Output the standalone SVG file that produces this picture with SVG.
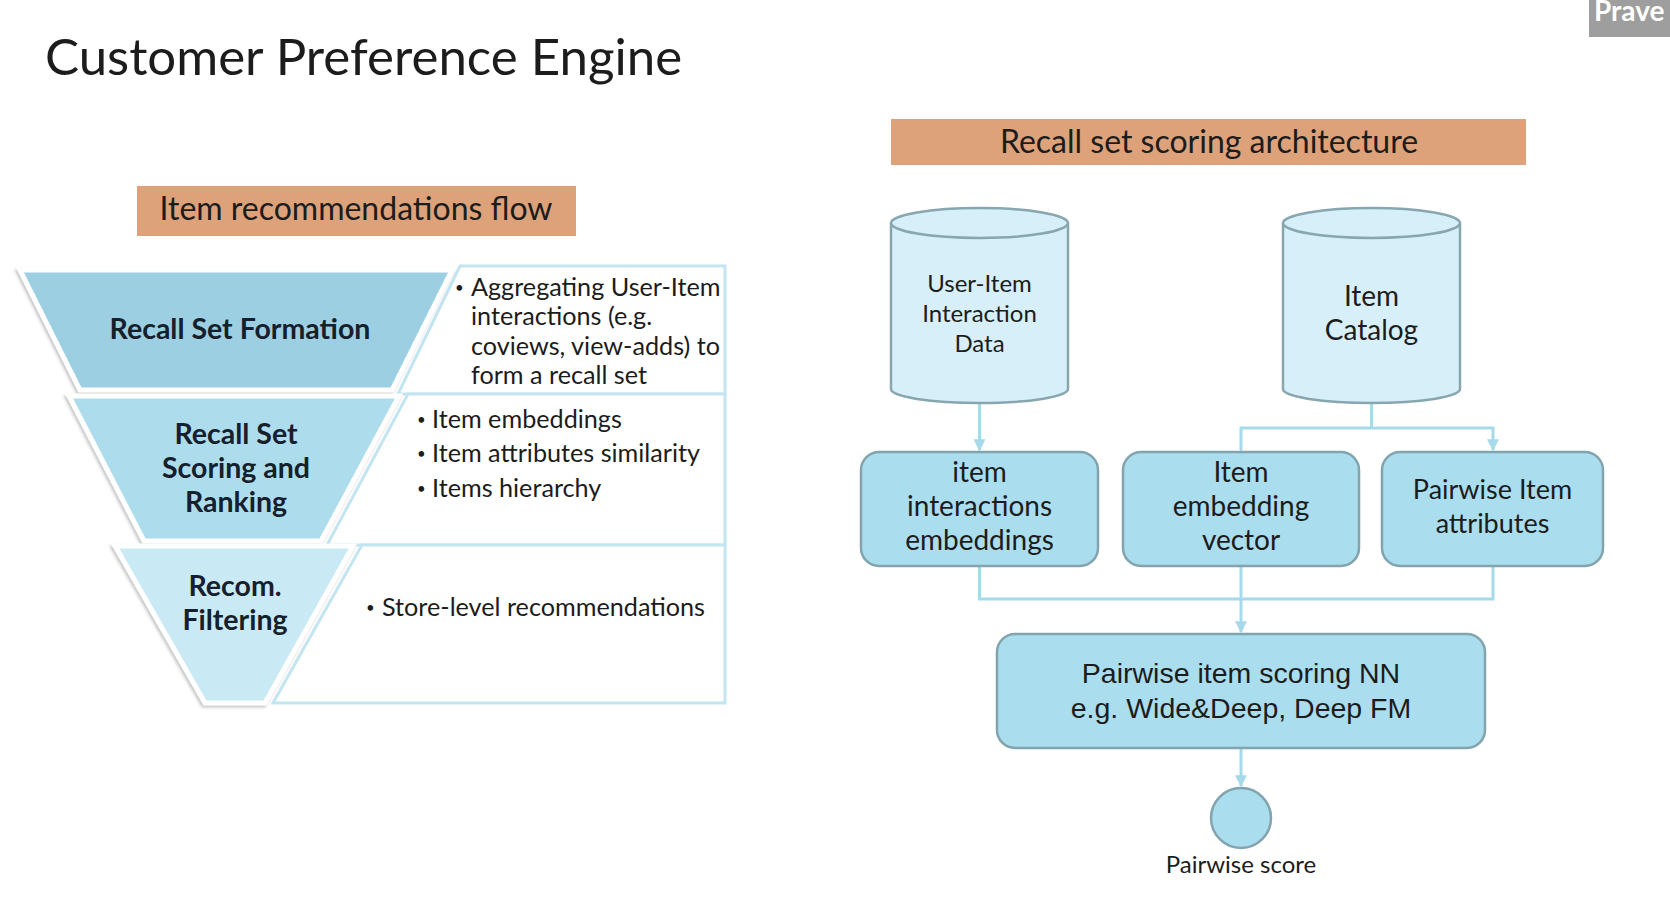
<svg xmlns="http://www.w3.org/2000/svg" width="1670" height="898" viewBox="0 0 1670 898">
<defs>
<style>
.t{font-family:Lato,"Open Sans","DejaVu Sans",sans-serif;fill:#1c1c1c}
.fl{font-family:Lato,"Open Sans","DejaVu Sans",sans-serif;font-weight:700;font-size:28.5px;fill:#15202c;text-anchor:middle}
.bul{font-size:25.2px}
.dot{font-size:15px}
.hdr{fill:#DDA27A}
.tb{fill:#ffffff;stroke:#C3E5F0;stroke-width:3}
.fun{stroke:#ffffff;stroke-width:5;stroke-linejoin:miter}
.cyl{fill:#D6EFF8;stroke:#88A6B0;stroke-width:2.5}
.box{fill:#AADDEE;stroke:#82A4AE;stroke-width:2.5}
.c{fill:none;stroke:#A6DAEA;stroke-width:3}
.mid{text-anchor:middle}
</style>
<marker id="ah" viewBox="0 0 10 10" refX="9" refY="5" markerWidth="4" markerHeight="4" orient="auto" markerUnits="strokeWidth">
<path d="M0,0 L10,5 L0,10 z" fill="#A6DAEA"/>
</marker>
<filter id="sh" x="-10%" y="-10%" width="120%" height="130%">
<feDropShadow dx="-1.5" dy="2" stdDeviation="1.5" flood-color="#7a7a7a" flood-opacity="0.45"/>
</filter>
</defs>
<rect width="1670" height="898" fill="#ffffff"/>

<g id="title">
<text class="t" x="45" y="75" font-size="51">Customer Preference Engine</text>
</g>

<g id="presenter-tag">
<rect x="1589" y="-5" width="90" height="42" fill="#9E9E9E"/>
<text x="1594" y="21" font-family="Lato,'DejaVu Sans',sans-serif" font-weight="700" font-size="28" fill="#ffffff">Prave</text>
</g>

<g id="flow-header">
<rect class="hdr" x="137" y="186" width="439" height="50"/>
<text class="t mid" x="356" y="220" font-size="32">Item recommendations flow</text>
</g>

<g id="text-boxes">
<polygon id="box-recall" class="tb" points="460,266 725,266 725,394 398,394"/>
<polygon id="box-scoring" class="tb" points="408,394 725,394 725,545 327,545"/>
<polygon id="box-filter" class="tb" points="362,545 725,545 725,703 273,703"/>
</g>

<g id="funnel-recall">
<polygon class="fun" filter="url(#sh)" fill="#9CCFE1" points="20,270 452,270 392,390 80,390"/>
<text class="fl" x="240" y="339">Recall Set Formation</text>
</g>
<g id="funnel-scoring">
<polygon class="fun" filter="url(#sh)" fill="#ADDDED" points="69,396 399,396 321,541 144,541"/>
<text class="fl" x="236" y="444">Recall Set</text>
<text class="fl" x="236" y="478">Scoring and</text>
<text class="fl" x="236" y="512">Ranking</text>
</g>
<g id="funnel-filter">
<polygon class="fun" filter="url(#sh)" fill="#C9EAF5" points="115,546 353,546 265,703 205,703"/>
<text class="fl" x="235" y="596">Recom.</text>
<text class="fl" x="235" y="630">Filtering</text>
</g>

<g id="recall-text" class="t bul">
<text class="dot" x="455" y="293">•</text>
<text x="471" y="296">Aggregating User-Item</text>
<text x="471" y="325">interactions (e.g.</text>
<text x="471" y="355">coviews, view-adds) to</text>
<text x="471" y="384">form a recall set</text>
</g>
<g id="scoring-text" class="t bul">
<text class="dot" x="417" y="425">•</text><text x="432" y="428">Item embeddings</text>
<text class="dot" x="417" y="459">•</text><text x="432" y="462">Item attributes similarity</text>
<text class="dot" x="417" y="494">•</text><text x="432" y="497">Items hierarchy</text>
</g>
<g id="filter-text" class="t bul">
<text class="dot" x="366" y="613">•</text><text x="382" y="616">Store-level recommendations</text>
</g>

<g id="arch-header">
<rect class="hdr" x="891" y="119" width="635" height="46"/>
<text class="t mid" x="1209" y="153" font-size="32">Recall set scoring architecture</text>
</g>

<g id="connectors">
<line class="c" x1="979.5" y1="404" x2="979.5" y2="450" marker-end="url(#ah)"/>
<line class="c" x1="1371.5" y1="404" x2="1371.5" y2="428"/>
<polyline class="c" points="1241,450 1241,428 1493,428 1493,450" marker-start="url(#ah)" marker-end="url(#ah)"/>
<polyline class="c" points="979.5,567 979.5,599 1493,599 1493,567"/>
<line class="c" x1="1241" y1="567" x2="1241" y2="632" marker-end="url(#ah)"/>
<line class="c" x1="1241" y1="749" x2="1241" y2="786" marker-end="url(#ah)"/>
</g>

<g id="cyl-user-item">
<path class="cyl" d="M891,223 A88.5,15 0 0 1 1068,223 L1068,389 A88.5,14 0 0 1 891,389 Z"/>
<path class="cyl" d="M891,223 A88.5,15 0 0 0 1068,223"/>
<text class="t mid" x="979.5" y="292" font-size="24">User-Item</text>
<text class="t mid" x="979.5" y="322" font-size="24">Interaction</text>
<text class="t mid" x="979.5" y="352" font-size="24">Data</text>
</g>

<g id="cyl-catalog">
<path class="cyl" d="M1283,223 A88.5,15 0 0 1 1460,223 L1460,389 A88.5,14 0 0 1 1283,389 Z"/>
<path class="cyl" d="M1283,223 A88.5,15 0 0 0 1460,223"/>
<text class="t mid" x="1371.5" y="306" font-size="28">Item</text>
<text class="t mid" x="1371.5" y="340" font-size="28">Catalog</text>
</g>

<g id="box-interactions">
<rect class="box" x="861" y="452" width="237" height="114" rx="18"/>
<text class="t mid" x="979.5" y="482" font-size="28">item</text>
<text class="t mid" x="979.5" y="516" font-size="28">interactions</text>
<text class="t mid" x="979.5" y="550" font-size="28">embeddings</text>
</g>

<g id="box-embedding">
<rect class="box" x="1123" y="452" width="236" height="114" rx="18"/>
<text class="t mid" x="1241" y="482" font-size="28">Item</text>
<text class="t mid" x="1241" y="516" font-size="28">embedding</text>
<text class="t mid" x="1241" y="550" font-size="28">vector</text>
</g>

<g id="box-attributes">
<rect class="box" x="1382" y="452" width="221" height="114" rx="18"/>
<text class="t mid" x="1492.5" y="499" font-size="27">Pairwise Item</text>
<text class="t mid" x="1492.5" y="533" font-size="27">attributes</text>
</g>

<g id="box-nn">
<rect class="box" x="997" y="634" width="488" height="114" rx="18"/>
<text x="1241" y="683" font-family="'Liberation Sans',Arial,sans-serif" font-size="28.5" fill="#1c1c1c" text-anchor="middle">Pairwise item scoring NN</text>
<text x="1241" y="718" font-family="'Liberation Sans',Arial,sans-serif" font-size="28.5" fill="#1c1c1c" text-anchor="middle">e.g. Wide&amp;Deep, Deep FM</text>
</g>

<g id="score">
<circle cx="1241" cy="818" r="30" fill="#AADDEE" stroke="#82A4AE" stroke-width="2.5"/>
<text class="t mid" x="1241" y="873" font-size="24">Pairwise score</text>
</g>
</svg>
